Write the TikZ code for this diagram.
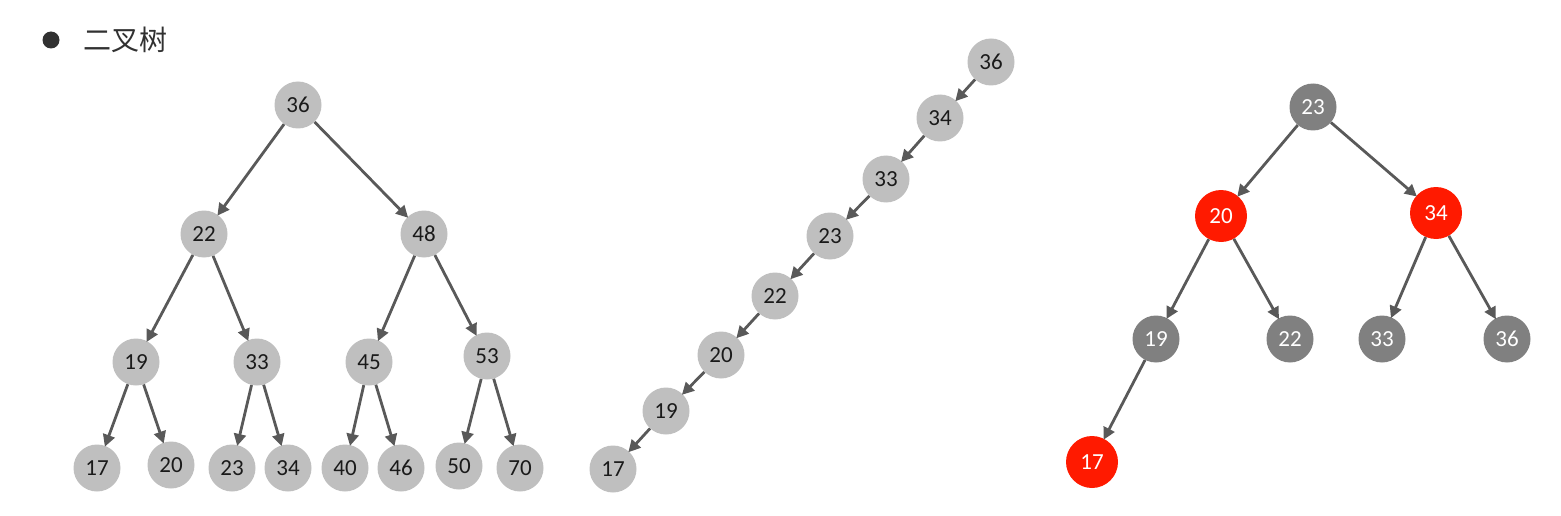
\documentclass[tikz,border=0pt]{standalone}
\usepackage{fontspec}
\setmainfont{Carlito}
\newfontfamily\cjk{Noto Sans CJK SC}
\usetikzlibrary{arrows.meta}
\definecolor{lg}{HTML}{BFBFBF}
\definecolor{dg}{HTML}{808080}
\definecolor{rd}{HTML}{FF1A00}
\definecolor{ln}{HTML}{595959}
\definecolor{tx}{HTML}{1A1A1A}
\tikzset{
  lnode/.style={circle,fill=lg,minimum size=47pt,inner sep=0pt,text=tx,font=\fontsize{23}{23}\selectfont},
  dnode/.style={circle,fill=dg,minimum size=47pt,inner sep=0pt,text=white,font=\fontsize{23}{23}\selectfont},
  rnode/.style={circle,fill=rd,minimum size=52pt,inner sep=0pt,text=white,font=\fontsize{23}{23}\selectfont},
  edge/.style={draw=ln,line width=2.8pt,-{Triangle[length=12pt,width=12pt]},shorten >=-1pt}
}
\begin{document}
\begin{tikzpicture}[x=1pt,y=-1pt]
\useasboundingbox (0,0) rectangle (1561,516);
% title
\node[circle,fill=tx!90,minimum size=17pt,inner sep=0pt] (bul) at (51,40) {};
\node[anchor=west,font=\cjk\fontsize{28}{28}\selectfont,text=tx!90] (ttl) at (80,40) {二叉树};
% tree 1
\node[lnode] (a36) at (298,105) {36};
\node[lnode] (a22) at (204,234) {22};
\node[lnode] (a48) at (424,234) {48};
\node[lnode] (a19) at (136,362) {19};
\node[lnode] (a33) at (257,362) {33};
\node[lnode] (a45) at (369,362) {45};
\node[lnode] (a53) at (487,356) {53};
\node[lnode] (a17) at (97,468) {17};
\node[lnode] (a20) at (171,465) {20};
\node[lnode] (a23) at (232,468) {23};
\node[lnode] (a34) at (288,468) {34};
\node[lnode] (a40) at (345,468) {40};
\node[lnode] (a46) at (401,468) {46};
\node[lnode] (a50) at (459,466) {50};
\node[lnode] (a70) at (520,468) {70};
\foreach \p/\c in {a36/a22,a36/a48,a22/a19,a22/a33,a48/a45,a48/a53,a19/a17,a19/a20,a33/a23,a33/a34,a45/a40,a45/a46,a53/a50,a53/a70}
  \draw[edge] (\p) -- (\c);
% tree 2
\node[lnode] (b36) at (991,62) {36};
\node[lnode] (b34) at (940,118) {34};
\node[lnode] (b33) at (886,179) {33};
\node[lnode] (b23) at (830,236) {23};
\node[lnode] (b22) at (775,296) {22};
\node[lnode] (b20) at (721,355) {20};
\node[lnode] (b19) at (666,411) {19};
\node[lnode] (b17) at (613,469) {17};
\foreach \p/\c in {b36/b34,b34/b33,b33/b23,b23/b22,b22/b20,b20/b19,b19/b17}
  \draw[edge] (\p) -- (\c);
% tree 3
\node[dnode] (c23) at (1313,107) {23};
\node[rnode] (c20) at (1221,216) {20};
\node[rnode] (c34) at (1436,213) {34};
\node[dnode] (c19) at (1156,339) {19};
\node[dnode] (c22) at (1290,339) {22};
\node[dnode] (c33) at (1382,339) {33};
\node[dnode] (c36) at (1507,339) {36};
\node[rnode] (c17) at (1092,462) {17};
\foreach \p/\c in {c23/c20,c23/c34,c20/c19,c20/c22,c34/c33,c34/c36,c19/c17}
  \draw[edge] (\p) -- (\c);
\end{tikzpicture}
\end{document}
